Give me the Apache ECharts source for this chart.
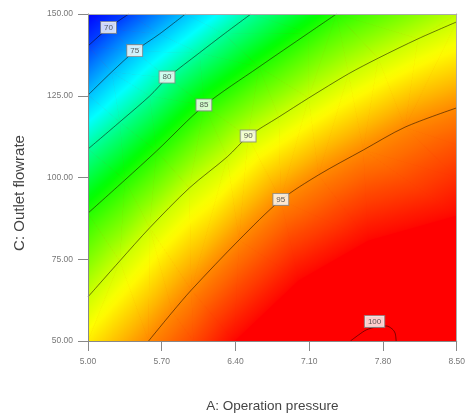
<!DOCTYPE html>
<html><head><meta charset="utf-8">
<script src="https://cdn.jsdelivr.net/npm/echarts@6/dist/echarts.min.js"></script>
<style>html,body{margin:0;padding:0;background:#fff}#c{width:468px;height:419px}</style>
</head><body><div id="c"></div>
<script>
// ---- tick labels ----
const xTicks = [5.00, 5.70, 6.40, 7.10, 7.80, 8.50];
const yTicks = [50, 75, 100, 125, 150];
// ---- contour levels and contour lines: [A: pressure, C: flowrate] ----
const levels = [70, 75, 80, 85, 90, 95, 100];
const c70 = [[5.000,140.2],[5.190,145.6],[5.387,150]];
const c75 = [[5.000,125.2],[5.226,132.3],[5.443,138.6],[5.679,143.9],[5.925,150]];
const c80 = [[5.000,108.7],[5.302,117.0],[5.585,124.9],[5.755,130.5],[6.057,138.1],[6.292,143.9],[6.547,150]];
const c85 = [[5.000,89.1],[5.349,99.2],[5.651,108.1],[6.104,122.0],[6.623,133.8],[7.094,144.2],[7.358,150]];
const c90 = [[5.000,63.5],[5.302,74.5],[5.585,84.6],[5.962,96.8],[6.321,106.3],[6.519,112.5],[6.811,118.5],[7.094,124.3],[7.472,131.7],[7.755,136.5],[8.132,142.4],[8.500,147.6]];
const c95 = [[5.575,50],[5.802,58.9],[5.981,65.6],[6.434,80.9],[6.830,93.1],[7.189,100.8],[7.613,108.4],[8.009,115.4],[8.500,121.3]];
const c100 = [[7.491,50],[7.566,51.8],[7.642,53.4],[7.736,54.3],[7.830,54.6],[7.887,53.7],[7.915,52.4],[7.925,50]];
// label anchor points on each contour
const labelPos = [[5.195,145.9],[5.443,138.8],[5.750,130.7],[6.100,122.2],[6.520,112.7],[6.830,93.3],[7.720,56.0]];
// ---- estimated response values at plot corners / edges (from the colours): [A, C, value] ----
const cornerTL = [[5.0,150,67.5]];
const cornerTR = [[8.5,150,89.5]];
const cornerBL = [[5.0,50,92.0]];
const bottom95 = [[5.575,50,95.0],[6.0,50,96.8]];
const c99 = [[6.387,50],[7.0,68.7],[7.66,80.9],[8.5,88.5]];   // where colour becomes fully red
const right95 = [[8.5,100,97.6],[8.5,110,96.5],[8.5,121.3,95.0]];

// colour scale (value -> rgb)
const cmapStops = [[67.5,[0,0,255]],[77.5,[0,255,255]],[84,[0,255,0]],[91.5,[255,255,0]],[99,[255,0,0]]];
function cmap(v){
  if (v <= cmapStops[0][0]) return 'rgb(' + cmapStops[0][1].join(',') + ')';
  for (let i = 1; i < cmapStops.length; i++) {
    if (v <= cmapStops[i][0]) {
      const [v0,c0] = cmapStops[i-1], [v1,c1] = cmapStops[i];
      const f = (v - v0)/(v1 - v0);
      return 'rgb(' + c0.map((c,k)=>Math.round(c + (c1[k]-c)*f)).join(',') + ')';
    }
  }
  return 'rgb(' + cmapStops[cmapStops.length-1][1].join(',') + ')';
}
const X0 = 5.0, XSTEP = 0.7;           // axis plotted in tick-step units
const tx = v => (v - X0)/XSTEP;
const withV = (arr, v) => arr.map(p => [p[0], p[1], v]);

function cum(P){
  const t=[0];
  for (let i=1;i<P.length;i++) t.push(t[i-1]+Math.hypot((P[i][0]-P[i-1][0])/3.5,(P[i][1]-P[i-1][1])/100));
  const L=t[t.length-1]||1; return t.map(v=>v/L);
}
function stitch(A,B,out){
  const ta=cum(A), tb=cum(B); let i=0,j=0;
  while(i<A.length-1 || j<B.length-1){
    if (j>=B.length-1 || (i<A.length-1 && ta[i+1] <= tb[j+1])) { out.push([A[i],A[i+1],B[j]]); i++; }
    else { out.push([A[i],B[j],B[j+1]]); j++; }
  }
}
const bands = [
  [withV(c70,70), cornerTL],
  [withV(c70,70), withV(c75,75)],
  [withV(c75,75), withV(c80,80)],
  [withV(c80,80), withV(c85,85)],
  [withV(c85,85).concat(cornerTR), withV(c90,90)],
  [withV(c90,90), cornerBL.concat(withV(c95,95))],
  [withV(c95,95), bottom95.concat(withV(c99,98.8)).concat(right95)]
];
const tris=[];
bands.forEach(b=>stitch(b[0],b[1],tris));
const triData = tris.map(t => t.flatMap(p => [tx(p[0]), p[1], p[2]]));

function renderTri(params, api){
  const pts=[0,1,2].map(k=>api.coord([api.value(3*k),api.value(3*k+1)]));
  const vs=[0,1,2].map(k=>api.value(3*k+2));
  const [p0,p1,p2]=pts;
  const x1=p1[0]-p0[0], y1=p1[1]-p0[1], x2=p2[0]-p0[0], y2=p2[1]-p0[1];
  const det=x1*y2-x2*y1;
  if (Math.abs(det)<0.5) return null;
  const vmin=Math.min(...vs), vmax=Math.max(...vs), dv=vmax-vmin;
  let fill;
  if (dv<1e-6) fill=cmap(vmin);
  else {
    const d1=vs[1]-vs[0], d2=vs[2]-vs[0];
    const a=(d1*y2-y1*d2)/det, b=(x1*d2-d1*x2)/det;
    const g2=a*a+b*b;
    const S=pts[vs.indexOf(vmin)];
    const E=[S[0]+a*dv/g2, S[1]+b*dv/g2];
    const N=12, stops=[];
    for(let k=0;k<=N;k++) stops.push({offset:k/N,color:cmap(vmin+dv*k/N)});
    fill={type:'linear',x:S[0],y:S[1],x2:E[0],y2:E[1],global:true,colorStops:stops};
  }
  return {type:'polygon',shape:{points:pts},style:{fill:fill,stroke:fill,lineWidth:0.8}};
}

const contours=[c70,c75,c80,c85,c90,c95,c100];
const lineSeries = contours.map(c=>({
  type:'line', data:c.map(p=>[tx(p[0]),p[1]]), showSymbol:false, smooth:0.3,
  lineStyle:{color:'rgba(0,0,0,0.5)',width:1}, z:3, silent:true, animation:false
}));

const chart=echarts.init(document.getElementById('c'),null,{renderer:'canvas'});
const axisFont={fontFamily:'Liberation Sans',fontSize:8.5,color:'#777'};
chart.setOption({
  animation:false,
  backgroundColor:'#fff',
  grid:{left:88,right:9,top:14,bottom:78,show:true,backgroundColor:'#ff0000',borderWidth:0},
  xAxis:[{
    type:'value', min:0, max:xTicks.length-1, interval:1, z:10,
    name:'A: Operation pressure', nameLocation:'middle', nameGap:58,
    nameTextStyle:{fontFamily:'Liberation Sans',fontSize:13.5,color:'#444'},
    axisLine:{show:true,lineStyle:{color:'#888',width:1}},
    axisTick:{show:true,length:10,lineStyle:{color:'#888'}},
    axisLabel:Object.assign({margin:16,formatter:(v)=>xTicks[Math.round(v)].toFixed(2)},axisFont),
    splitLine:{show:false}
  },{
    type:'value', position:'top', min:0, max:xTicks.length-1, z:10,
    axisLine:{show:true,onZero:false,lineStyle:{color:'#aaa',width:1}},
    axisTick:{show:false}, axisLabel:{show:false}, splitLine:{show:false}
  }],
  yAxis:[{
    type:'value', min:yTicks[0], max:yTicks[yTicks.length-1], interval:25, z:10,
    name:'C: Outlet flowrate', nameLocation:'middle', nameGap:61,
    nameTextStyle:{fontFamily:'Liberation Sans',fontSize:15,color:'#444',padding:[0,31,0,0]},
    axisLine:{show:true,lineStyle:{color:'#888',width:1}},
    axisTick:{show:true,length:10,lineStyle:{color:'#888'}},
    axisLabel:Object.assign({margin:15,formatter:(v)=>v.toFixed(2)},axisFont),
    splitLine:{show:false}
  },{
    type:'value', position:'right', min:yTicks[0], max:yTicks[yTicks.length-1], z:10,
    axisLine:{show:true,onZero:false,lineStyle:{color:'#aaa',width:1}},
    axisTick:{show:false}, axisLabel:{show:false}, splitLine:{show:false}
  }],
  series:[
    {type:'custom', renderItem:renderTri, data:triData, clip:true, silent:true, z:1,
     encode:{x:[0,3,6],y:[1,4,7]}, dimensions:['x0','y0','v0','x1','y1','v1','x2','y2','v2']}
  ].concat(lineSeries).concat([{
    type:'scatter', z:5, silent:true, symbolSize:1, itemStyle:{color:'rgba(0,0,0,0)'},
    data:labelPos.map((p,i)=>({value:[tx(p[0]),p[1]],name:String(levels[i])})),
    label:{show:true,position:'inside',formatter:(p)=>p.name,fontFamily:'Liberation Sans',fontSize:8,
      color:'#333',backgroundColor:'#fff',borderColor:'#888',borderWidth:1,padding:[1,3,1,3],lineHeight:9}
  }])
});
</script></body></html>
